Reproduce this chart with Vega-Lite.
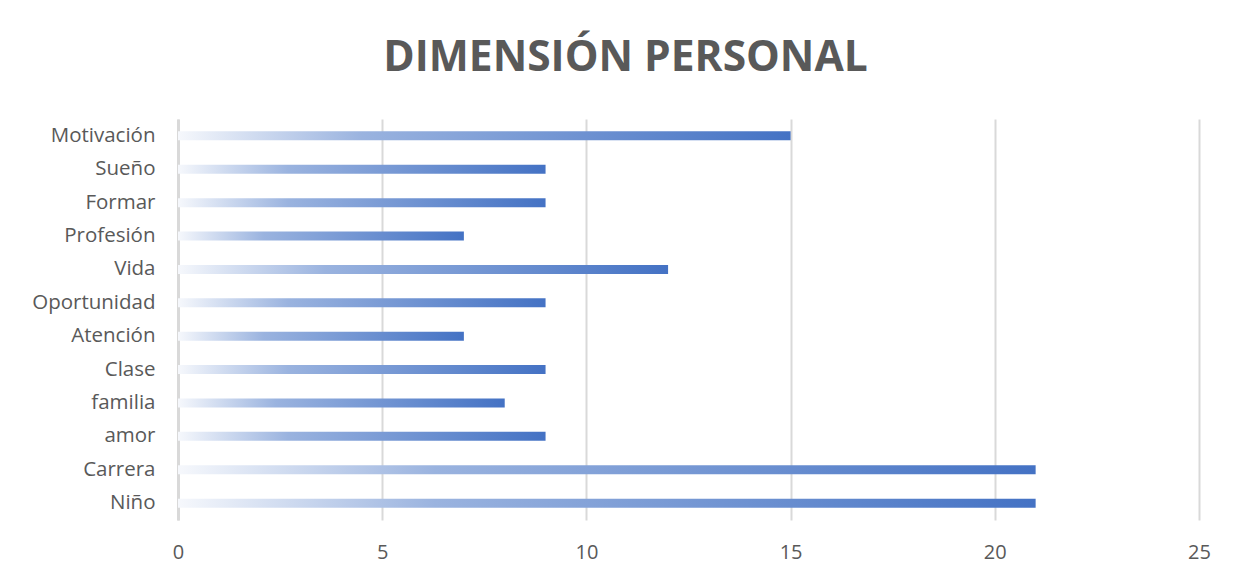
{
  "$schema": "https://vega.github.io/schema/vega-lite/v6.json",
  "width": 1021,
  "height": 401,
  "autosize": {"type": "none"},
  "padding": {"left": 178, "top": 119, "right": 40, "bottom": 60},
  "background": "white",
  "title": {
    "text": "DIMENSIÓN PERSONAL",
    "font": "Open Sans",
    "fontWeight": "bold",
    "fontSize": 42.5,
    "color": "#595959",
    "anchor": "middle",
    "dx": -63,
    "offset": 40
  },
  "data": {
    "values": [
      {"categoria": "Motivación", "valor": 15},
      {"categoria": "Sueño", "valor": 9},
      {"categoria": "Formar", "valor": 9},
      {"categoria": "Profesión", "valor": 7},
      {"categoria": "Vida", "valor": 12},
      {"categoria": "Oportunidad\u00a0", "valor": 9},
      {"categoria": "Atención\u00a0", "valor": 7},
      {"categoria": "Clase", "valor": 9},
      {"categoria": "familia\u00a0", "valor": 8},
      {"categoria": "amor\u00a0", "valor": 9},
      {"categoria": "Carrera", "valor": 21},
      {"categoria": "Niño", "valor": 21}
    ]
  },
  "mark": {
    "type": "bar",
    "color": {
      "gradient": "linear",
      "x1": 0, "y1": 0, "x2": 1, "y2": 0,
      "stops": [
        {"offset": 0, "color": "#f6f8fc"},
        {"offset": 0.3, "color": "#9ab3df"},
        {"offset": 1, "color": "#4472c4"}
      ]
    }
  },
  "encoding": {
    "y": {
      "field": "categoria",
      "type": "nominal",
      "sort": null,
      "scale": {"paddingInner": 0.73, "paddingOuter": 0.37},
      "axis": {
        "title": null,
        "labelFont": "Open Sans",
        "labelFontSize": 20.5,
        "labelColor": "#595959",
        "labelPadding": 23,
        "ticks": false,
        "domain": true,
        "domainColor": "#d9d9d9",
        "domainWidth": 3,
        "grid": false
      }
    },
    "x": {
      "field": "valor",
      "type": "quantitative",
      "scale": {"domain": [0, 25], "nice": false},
      "axis": {
        "title": null,
        "values": [0, 5, 10, 15, 20, 25],
        "labelFont": "Open Sans",
        "labelFontSize": 20,
        "labelColor": "#595959",
        "labelPadding": 22,
        "labelFlush": false,
        "ticks": false,
        "domain": false,
        "grid": true,
        "gridColor": "#d9d9d9",
        "gridWidth": 2
      }
    }
  },
  "config": {"view": {"stroke": null}}
}
